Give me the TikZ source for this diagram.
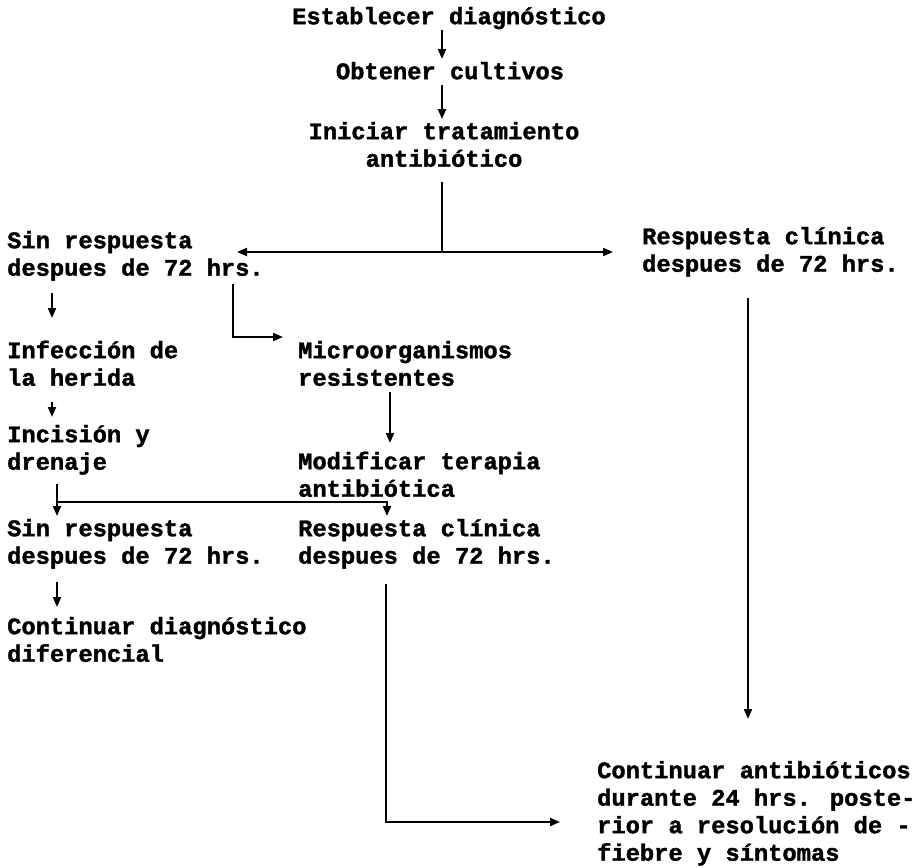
\documentclass[tikz,border=0pt]{standalone}
\usepackage{fontspec}
\setmainfont{Liberation Mono}[BoldFeatures={FakeBold=1.5}]
\usetikzlibrary{arrows.meta,calc}
\newcommand\st{\rule[-6pt]{0pt}{26pt}}
\newcommand\tw{\bfseries\fontsize{23.75pt}{27.5pt}\selectfont}
\begin{document}
\begin{tikzpicture}[x=1pt,y=-1pt,
  txt/.style={inner sep=0pt, align=left, anchor=north west, font=\tw},
  ctr/.style={inner sep=0pt, align=center, anchor=north, font=\tw},
  ln/.style={line width=2pt},
  arr/.style={line width=2pt, -{Triangle[length=10pt,width=8pt]}}]
\useasboundingbox (0,0) rectangle (919,868);
% nodes
\node[ctr] (est) at (449,4) {\st Establecer diagnóstico};
\node[ctr] (obt) at (450,59) {\st Obtener cultivos};
\node[ctr] (ini) at (444,119) {\st Iniciar tratamiento\\\st antibiótico};
\node[txt] (sr1) at (7,228) {\st Sin respuesta\\\st despues de 72 hrs.};
\node[txt] (rc1) at (642,224) {\st Respuesta clínica\\\st despues de 72 hrs.};
\node[txt] (inf) at (7,338) {\st Infección de\\\st la herida};
\node[txt] (mic) at (298,338) {\st Microorganismos\\\st resistentes};
\node[txt] (inc) at (7,422) {\st Incisión y\\\st drenaje};
\node[txt] (mod) at (298,449) {\st Modificar terapia\\\st antibiótica};
\node[txt] (sr2) at (7,516) {\st Sin respuesta\\\st despues de 72 hrs.};
\node[txt] (rc2) at (298,516) {\st Respuesta clínica\\\st despues de 72 hrs.};
\node[txt] (cd) at (7,614) {\st Continuar diagnóstico\\\st diferencial};
\node[txt] (ca) at (597,758) {\st Continuar antibióticos\\\st durante 24 hrs. poste-\\\st rior a resolución de -\\\st fiebre y síntomas};
% helper coordinates
\coordinate (ax) at (442,0);
\coordinate (lx) at (52,0);
\coordinate (lx2) at (57,0);
\coordinate (mx) at (390,0);
\coordinate (mx2) at (387,0);
\coordinate (rx) at (748,0);
\coordinate (j1) at (442,252);
\coordinate (t1) at (237,252);
\coordinate (t2) at (613,252);
\coordinate (lc) at (233,337);
\coordinate (j2) at (57,502);
\coordinate (j3) at (387,502);
\coordinate (bc) at (386,822);
\coordinate (t3) at (560,822);
% connectors
\draw[arr] (est.south -| ax) -- (obt.north -| ax);
\draw[arr] (obt.south -| ax) -- (ini.north -| ax);
\draw[ln, shorten <=9.5pt] (ini.south -| ax) -- (j1);
\draw[arr] (j1) -- (t1);
\draw[arr] (j1) -- (t2);
\draw[arr, shorten <=11.5pt, shorten >=20pt] (sr1.south -| lx) -- (inf.north -| lx);
\draw[arr, shorten <=2pt, shorten >=15pt] (sr1.south -| lc) -- (lc) -- (mic.west |- lc);
\draw[arr, shorten <=10pt, shorten >=5pt] (inf.south -| lx) -- (inc.north -| lx);
\draw[arr, shorten >=6pt] (mic.south -| mx) -- (mod.north -| mx);
\draw[arr, shorten <=8.5pt] (inc.south -| lx2) -- (sr2.north -| lx2);
\draw[arr] (j2) -- (j3) -- (rc2.north -| mx2);
\draw[arr, shorten <=12pt, shorten >=7pt] (sr2.south -| lx2) -- (cd.north -| lx2);
\draw[arr, shorten <=14.5pt] (rc2.south -| bc) -- (bc) -- (t3);
\draw[arr, shorten <=20.5pt, shorten >=39pt] (rc1.south -| rx) -- (ca.north -| rx);
\end{tikzpicture}
\end{document}
